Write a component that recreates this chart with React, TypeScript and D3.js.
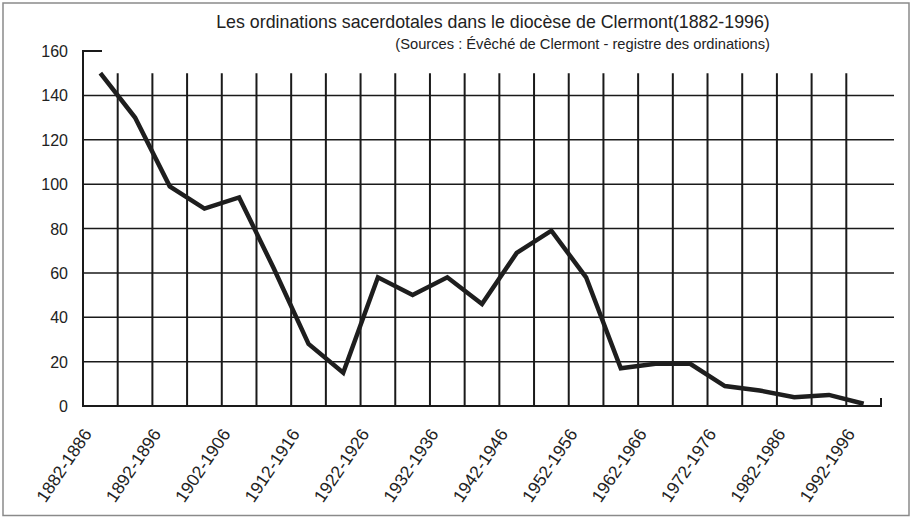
import React, { useRef, useEffect } from 'react'
import * as d3 from 'd3'

// periods of five years, 1882-1886 ... 1992-1996
const periods = [
  '1882-1886', '1887-1891', '1892-1896', '1897-1901', '1902-1906', '1907-1911',
  '1912-1916', '1917-1921', '1922-1926', '1927-1931', '1932-1936', '1937-1941',
  '1942-1946', '1947-1951', '1952-1956', '1957-1961', '1962-1966', '1967-1971',
  '1972-1976', '1977-1981', '1982-1986', '1987-1991', '1992-1996'
]
// number of ordinations per period
const ordinations = [150, 130, 99, 89, 94, 62, 28, 15, 58, 50, 58, 46, 69, 79, 58, 17, 19, 19, 9, 7, 4, 5, 1]
const yTicks = [0, 20, 40, 60, 80, 100, 120, 140, 160]
const title = 'Les ordinations sacerdotales dans le diocèse de Clermont(1882-1996)'
const subtitle = '(Sources : Évêché de Clermont - registre des ordinations)'

const App = () => {
  const ref = useRef<SVGSVGElement>(null)

  useEffect(() => {
    const svg = d3.select(ref.current)
    svg.selectAll('*').remove()

    const width = 914, height = 517
    const left = 83, right = 881, bottom = 406, top = 51
    const font = '"Liberation Sans", Arial, Helvetica, sans-serif'

    const x = d3.scaleBand().domain(periods).range([left, right])
    const y = d3.scaleLinear().domain([0, 160]).range([bottom, top])

    svg.attr('width', width).attr('height', height)

    // scanned page border
    svg.append('rect')
      .attr('x', 3).attr('y', 3).attr('width', 906).attr('height', 512.5)
      .attr('fill', '#fff').attr('stroke', '#8a8a8a').attr('stroke-width', 1.5)

    const g = svg.append('g')

    // horizontal grid
    g.selectAll('line.h')
      .data(yTicks.filter(d => d > 0 && d < 160))
      .join('line')
      .attr('x1', left).attr('x2', 894)
      .attr('y1', d => y(d)).attr('y2', d => y(d))
      .attr('stroke', '#1a1a1a').attr('stroke-width', 1.5)

    // vertical grid at band boundaries
    g.selectAll('line.v')
      .data(periods.slice(1))
      .join('line')
      .attr('x1', d => x(d)!).attr('x2', d => x(d)!)
      .attr('y1', y(150)).attr('y2', bottom)
      .attr('stroke', '#1a1a1a').attr('stroke-width', 2)

    // axes
    g.append('path')
      .attr('d', `M${left + 19},${top}H${left}V${bottom}H${right}V${bottom - 8}`)
      .attr('fill', 'none').attr('stroke', '#1a1a1a').attr('stroke-width', 2)

    // y tick labels
    g.selectAll('text.y')
      .data(yTicks)
      .join('text')
      .attr('x', 68).attr('y', d => y(d) + 6)
      .attr('text-anchor', 'end')
      .style('font-family', font).style('font-size', '16px').style('fill', '#222')
      .text(d => d)

    // x labels, every other period
    g.selectAll('text.x')
      .data(periods.filter((d, i) => i % 2 === 0))
      .join('text')
      .attr('transform', d => `translate(${x(d)! + x.bandwidth() / 2 - 8},${434}) rotate(-56)`)
      .attr('text-anchor', 'end')
      .style('font-family', font).style('font-size', '17.5px').style('fill', '#222')
      .text(d => d)

    // data line through band centres
    const line = d3.line<number>()
      .x((d, i) => x(periods[i])! + x.bandwidth() / 2)
      .y(d => y(d))

    g.append('path')
      .datum(ordinations)
      .attr('d', line)
      .attr('fill', 'none')
      .attr('stroke', '#1e1e1e')
      .attr('stroke-width', 4.5)
      .attr('stroke-linejoin', 'miter')

    // titles
    svg.append('text')
      .attr('x', 493).attr('y', 28)
      .attr('text-anchor', 'middle')
      .style('font-family', font).style('font-size', '17.8px').style('fill', '#222')
      .text(title)

    svg.append('text')
      .attr('x', 770).attr('y', 49)
      .attr('text-anchor', 'end')
      .style('font-family', font).style('font-size', '14.7px').style('fill', '#222')
      .text(subtitle)
  }, [])

  return (
    <svg
      ref={ref}
      style={{ position: 'fixed', left: 0, top: 0, width: 914, height: 517, background: '#fff' }}
    />
  )
}

export default App
